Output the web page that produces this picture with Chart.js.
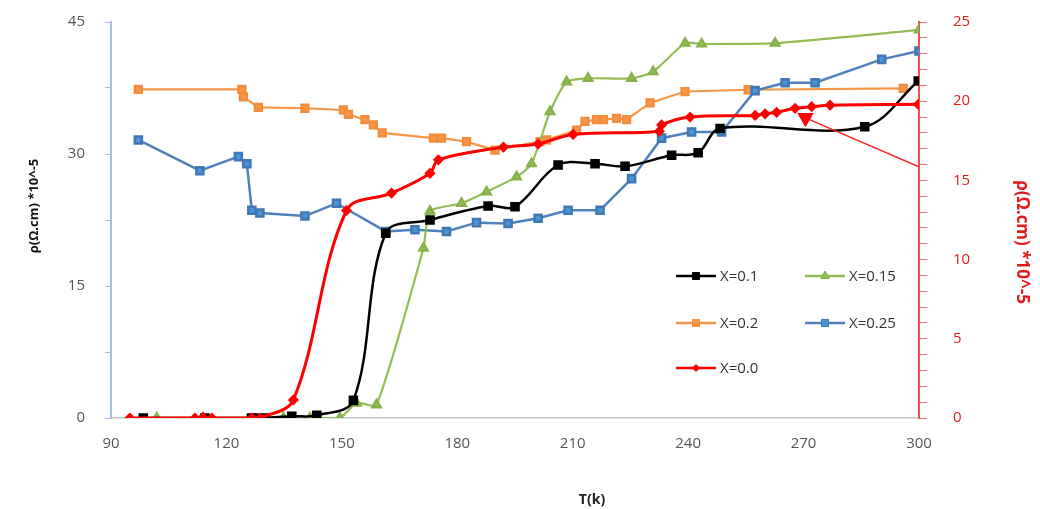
<!DOCTYPE html>
<html>
<head>
<meta charset="utf-8">
<script src="https://cdn.jsdelivr.net/npm/chart.js@4/dist/chart.umd.min.js"></script>
<style>
  html, body { margin: 0; padding: 0; background: #fff; }
  #wrap { width: 1040px; height: 509px; position: relative; }
</style>
</head>
<body>
<div id="wrap"><canvas id="rhoChart"></canvas></div>
<script>
// T (K) and resistivity values
const tempX01 = [98.4, 114.4, 126.5, 128, 130, 137, 143.5, 153, 161.4, 172.9, 188, 195, 206.2, 215.8, 223.6, 235.7, 242.6, 248.3, 285.9, 299.8];
const rhoX01 = [0, 0, 0, 0, 0, 0.2, 0.3, 2.0, 21.0, 22.5, 24.1, 24.0, 28.75, 28.9, 28.6, 29.85, 30.15, 32.9, 33.1, 38.3];

const tempX015 = [101.9, 134.8, 141.7, 149.5, 153.8, 159.0, 171.2, 172.9, 181.1, 187.6, 195.4, 199.3, 204.1, 208.4, 214.0, 225.3, 230.9, 239.2, 243.5, 262.6, 300];
const rhoX015 = [0, 0, 0, 0, 1.7, 1.5, 19.3, 23.5, 24.4, 25.7, 27.4, 28.9, 34.8, 38.2, 38.6, 38.6, 39.35, 42.6, 42.5, 42.6, 44.1];

const tempX02 = [97.1, 124.0, 124.4, 128.3, 140.4, 150.4, 151.7, 156.0, 158.2, 160.5, 173.8, 175.9, 182.4, 189.8, 201.5, 203.2, 211.0, 213.2, 216.2, 218.0, 221.4, 224.0, 230.1, 239.2, 255.6, 295.9];
const rhoX02 = [37.35, 37.35, 36.5, 35.3, 35.2, 35.0, 34.5, 33.9, 33.3, 32.4, 31.8, 31.8, 31.4, 30.45, 31.4, 31.6, 32.7, 33.7, 33.9, 33.9, 34.05, 33.9, 35.8, 37.1, 37.3, 37.45];

const tempX025 = [97.1, 113.1, 123.1, 125.3, 126.6, 128.7, 140.4, 148.6, 161.4, 169.0, 177.2, 185.0, 193.2, 201.0, 208.8, 217.1, 225.3, 233.1, 240.9, 248.7, 257.4, 265.2, 273.0, 290.3, 300];
const rhoX025 = [31.6, 28.1, 29.7, 28.9, 23.6, 23.3, 22.95, 24.4, 21.2, 21.4, 21.2, 22.2, 22.1, 22.7, 23.6, 23.6, 27.2, 31.8, 32.5, 32.5, 37.2, 38.1, 38.1, 40.75, 41.7];

// X=0.0 is read on the right (red) axis
const tempX00 = [94.9, 111.8, 113.9, 116.2, 126.6, 128.7, 137.4, 151.2, 162.9, 172.9, 175.1, 192.0, 201.0, 210.1, 232.5, 233.1, 240.5, 257.4, 260.0, 263.0, 267.8, 272.1, 276.9, 299.8];
const rhoX00 = [0, 0, 0.05, 0, 0, 0, 1.14, 13.1, 14.2, 15.45, 16.3, 17.1, 17.3, 17.9, 18.1, 18.5, 19.0, 19.1, 19.2, 19.3, 19.55, 19.65, 19.75, 19.8];

// pointer from the X=0.0 curve to the right axis
const arrowT = [270.5, 300];
const arrowRho = [18.95, 15.85];

const xTicks = [90, 120, 150, 180, 210, 240, 270, 300];

function pts(xs, ys) {
    return xs.map((x, i) => ({ x: x, y: ys[i] }));
}

const fontFamily = "'Open Sans', 'DejaVu Sans', sans-serif";

// axis titles and the in-plot legend
const overlay = {
    id: 'overlay',
    afterDraw(chart) {
        const ctx = chart.ctx;
        ctx.save();

        ctx.fillStyle = '#111';
        ctx.font = 'bold 13px ' + fontFamily;
        ctx.textAlign = 'center';
        ctx.textBaseline = 'middle';
        ctx.save();
        ctx.translate(34, 206);
        ctx.rotate(-Math.PI / 2);
        ctx.fillText('ρ(Ω.cm) *10^-5', 0, 0);
        ctx.restore();

        ctx.fillStyle = '#e31b1b';
        ctx.font = 'bold 17px ' + fontFamily;
        ctx.save();
        ctx.translate(1022, 242);
        ctx.rotate(Math.PI / 2);
        ctx.fillText('ρ(Ω.cm) *10^-5', 0, 0);
        ctx.restore();

        ctx.fillStyle = '#222';
        ctx.font = 'bold 14px ' + fontFamily;
        ctx.fillText('T(k)', 592, 500);

        // legend, two columns
        const slots = [[676, 276], [805, 276], [676, 323], [805, 323], [676, 368]];
        chart.data.datasets.forEach((ds) => {
            if (ds.legendSlot === undefined) return;
            const [x, y] = slots[ds.legendSlot];
            ctx.strokeStyle = ds.borderColor;
            ctx.lineWidth = 2.5;
            ctx.beginPath();
            ctx.moveTo(x, y);
            ctx.lineTo(x + 40, y);
            ctx.stroke();
            ctx.fillStyle = ds.pointBackgroundColor;
            ctx.strokeStyle = ds.pointBorderColor;
            ctx.lineWidth = 1;
            Chart.helpers.drawPoint(ctx, {
                pointStyle: ds.pointStyle,
                radius: ds.pointRadius,
                rotation: 0,
                borderWidth: 1
            }, x + 20, y);
            ctx.fillStyle = '#333';
            ctx.font = '15px ' + fontFamily;
            ctx.textAlign = 'left';
            ctx.fillText(ds.label, x + 44, y + 1);
        });
        ctx.restore();
    }
};

// fixed axis boxes so the plot area sits where the reference has it
function fixVertical(width) {
    return (scale) => {
        scale.width = width;
        scale.paddingTop = 0;
        scale.paddingBottom = 0;
    };
}

const rhoChart = new Chart(document.getElementById('rhoChart').getContext('2d'), {
    type: 'line',
    data: {
        datasets: [
            {
                label: 'X=0.0',
                legendSlot: 4,
                data: pts(tempX00, rhoX00),
                yAxisID: 'y2',
                borderColor: '#ff0000',
                pointBackgroundColor: '#ff0000',
                pointBorderColor: '#ff0000',
                pointStyle: 'rectRot',
                pointRadius: 3.5,
                borderWidth: 3,
                tension: 0.35,
                order: 0,
            },
            {
                label: 'arrow',
                data: pts(arrowT, arrowRho),
                yAxisID: 'y2',
                borderColor: '#ff2020',
                pointBackgroundColor: '#ff0000',
                pointBorderColor: '#ff0000',
                pointStyle: 'triangle',
                pointRotation: 180,
                pointRadius: [8, 0],
                borderWidth: 1.5,
                order: 0,
            },
            {
                label: 'X=0.1',
                legendSlot: 0,
                data: pts(tempX01, rhoX01),
                yAxisID: 'y',
                borderColor: '#000000',
                pointBackgroundColor: '#000000',
                pointBorderColor: '#000000',
                pointStyle: 'rect',
                pointRadius: 5,
                borderWidth: 2.5,
                tension: 0.35,
                order: 1,
            },
            {
                label: 'X=0.15',
                legendSlot: 1,
                data: pts(tempX015, rhoX015),
                yAxisID: 'y',
                borderColor: '#92bd52',
                pointBackgroundColor: '#92bd52',
                pointBorderColor: '#86b048',
                pointStyle: 'triangle',
                pointRadius: 5,
                borderWidth: 2.2,
                tension: 0.2,
                order: 2,
            },
            {
                label: 'X=0.2',
                legendSlot: 2,
                data: pts(tempX02, rhoX02),
                yAxisID: 'y',
                borderColor: '#f79646',
                pointBackgroundColor: '#f79646',
                pointBorderColor: '#f28c3c',
                pointStyle: 'rect',
                pointRadius: 5,
                borderWidth: 2.2,
                tension: 0,
                order: 4,
            },
            {
                label: 'X=0.25',
                legendSlot: 3,
                data: pts(tempX025, rhoX025),
                yAxisID: 'y',
                borderColor: '#4f81bd',
                pointBackgroundColor: '#4a95d2',
                pointBorderColor: '#3f78b5',
                pointStyle: 'rect',
                pointRadius: 5,
                borderWidth: 2.5,
                tension: 0,
                order: 3,
            },
        ],
    },
    options: {
        responsive: true,
        maintainAspectRatio: false,
        animation: false,
        layout: { padding: { top: 22, left: 0, right: 0, bottom: 0 } },
        plugins: {
            legend: { display: false },
            tooltip: { enabled: false },
        },
        scales: {
            x: {
                type: 'linear',
                min: 90,
                max: 300,
                afterBuildTicks: (scale) => { scale.ticks = xTicks.map(v => ({ value: v })); },
                afterFit: (scale) => { scale.height = 91; },
                ticks: {
                    color: '#555',
                    padding: 17,
                    font: { family: fontFamily, size: 15 },
                },
                grid: { drawOnChartArea: false, drawTicks: false },
                border: { color: '#c4c4c4', width: 1.5 },
            },
            y: {
                position: 'left',
                min: 0,
                max: 45,
                afterFit: fixVertical(111),
                ticks: {
                    stepSize: 7.5,
                    autoSkip: false,
                    color: '#555',
                    padding: 20,
                    font: { family: fontFamily, size: 15 },
                    callback: (v) => (v % 15 === 0 ? v : ''),
                },
                grid: { drawOnChartArea: false, tickLength: 6, color: '#a9c0dd' },
                border: { color: '#a9c0dd', width: 2 },
            },
            y2: {
                position: 'right',
                min: 0,
                max: 25,
                afterFit: fixVertical(121),
                ticks: {
                    stepSize: 1,
                    autoSkip: false,
                    color: '#e31b1b',
                    padding: 26,
                    font: { family: fontFamily, size: 15 },
                    callback: (v) => (v % 5 === 0 ? v : ''),
                },
                grid: { drawOnChartArea: false, tickLength: 8, color: '#f07070' },
                border: { color: '#f05050', width: 2 },
            },
        },
    },
    plugins: [overlay],
});
</script>
</body>
</html>
